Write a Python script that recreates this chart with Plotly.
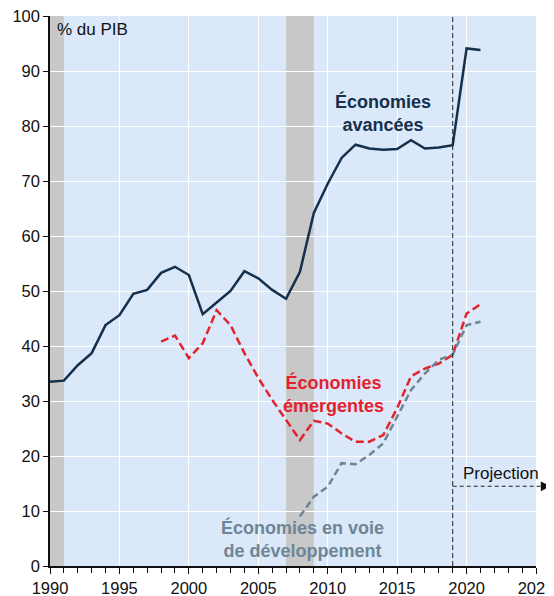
"""
Dette publique en % du PIB : économies avancées, émergentes et en voie de développement.
"""

import plotly.graph_objects as go

# Données
years_adv = list(range(1990, 2022))
debt_adv = [
    33.5, 33.7, 36.5, 38.7, 43.8, 45.6, 49.5, 50.2, 53.3, 54.4,
    52.9, 45.8, 47.9, 50.0, 53.6, 52.3, 50.2, 48.6, 53.5, 64.2,
    69.5, 74.2, 76.6, 75.9, 75.7, 75.8, 77.4, 75.9, 76.1, 76.5,
    94.1, 93.8,
]

years_em = list(range(1998, 2022))
debt_em = [
    40.8, 41.9, 37.8, 40.5, 46.5, 43.8, 38.7, 34.2, 30.2, 26.5,
    22.9, 26.4, 25.9, 24.1, 22.6, 22.6, 23.8, 28.7, 34.5, 35.9,
    36.8, 38.4, 45.9, 47.6,
]

years_dev = list(range(2008, 2022))
debt_dev = [
    9.0, 12.6, 14.4, 18.7, 18.5, 20.2, 22.3, 27.2, 32.0, 35.0,
    37.5, 38.4, 43.8, 44.4,
]

recessions = [(1990, 1991), (2007, 2009)]
projection_start = 2019

NAVY = "#14304d"
RED = "#e3222f"
GREY_BLUE = "#6f8596"
FONT = "Liberation Sans, Arial, sans-serif"

fig = go.Figure()

# Séries
fig.add_trace(
    go.Scatter(
        x=years_adv,
        y=debt_adv,
        mode="lines",
        line=dict(color=NAVY, width=2.5),
        name="Économies avancées",
    )
)
fig.add_trace(
    go.Scatter(
        x=years_em,
        y=debt_em,
        mode="lines",
        line=dict(color=RED, width=2.5, dash="8px,4px"),
        name="Économies émergentes",
    )
)
fig.add_trace(
    go.Scatter(
        x=years_dev,
        y=debt_dev,
        mode="lines",
        line=dict(color=GREY_BLUE, width=2.5, dash="7px,4px"),
        name="Économies en voie de développement",
    )
)

# Récessions (bandes grises)
for x0, x1 in recessions:
    fig.add_shape(
        type="rect",
        xref="x",
        yref="paper",
        x0=x0,
        x1=x1,
        y0=0,
        y1=1,
        fillcolor="#c8c8c8",
        line_width=0,
        layer="between",
    )

# Début de la projection
fig.add_shape(
    type="line",
    xref="x",
    yref="paper",
    x0=projection_start,
    x1=projection_start,
    y0=0,
    y1=1,
    line=dict(color="#222222", width=1, dash="5px,3px"),
)
fig.add_shape(
    type="line",
    xref="paper",
    yref="y",
    x0=(projection_start - 1990) / 35,
    x1=1.016,
    y0=14.5,
    y1=14.5,
    line=dict(color="#222222", width=1.2, dash="4px,3px"),
)
fig.add_annotation(
    xref="paper",
    yref="y",
    x=1.03,
    y=14.5,
    ax=-9,
    ay=0,
    text=" ",
    showarrow=True,
    arrowhead=2,
    arrowsize=1.3,
    arrowwidth=1.5,
    arrowcolor="#111111",
    standoff=0,
)

# Textes
labels = [
    ("Économies<br>avancées", 2014.0, 82.4, NAVY, True),
    ("Économies<br>émergentes", 2010.4, 31.3, RED, True),
    ("Économies en voie<br>de développement", 2008.2, 4.9, GREY_BLUE, True),
    ("Projection", 2022.5, 16.9, "#111111", False),
]
for text, x, y, color, bold in labels:
    fig.add_annotation(
        x=x,
        y=y,
        text=f"<b>{text}</b>" if bold else text,
        showarrow=False,
        font=dict(family=FONT, size=18 if bold else 17, color=color),
        xanchor="center",
        yanchor="middle",
    )

fig.add_annotation(
    xref="paper",
    yref="y",
    x=0.01,
    y=97.5,
    text="% du PIB",
    showarrow=False,
    xanchor="left",
    yanchor="middle",
    font=dict(family=FONT, size=17, color="#111111"),
)

# La page ajoute 8 px de marge autour du graphique : on compense ici
fig.update_layout(
    width=546,
    height=588,
    showlegend=False,
    margin=dict(l=42, r=18, t=8, b=30, autoexpand=False),
    plot_bgcolor="#dbe8f9",
    paper_bgcolor="white",
    font=dict(family=FONT, size=17, color="#111111"),
)

fig.update_xaxes(
    range=[1990, 2025],
    dtick=5,
    tick0=1990,
    automargin=False,
    ticklabeloverflow="allow",
    showgrid=True,
    gridcolor="white",
    gridwidth=1,
    zeroline=False,
    showline=True,
    linecolor="#111111",
    linewidth=1.5,
    ticks="outside",
    ticklen=6,
    tickcolor="#111111",
    tickfont=dict(family=FONT, size=16.5),
    minor=dict(dtick=1, ticks="outside", ticklen=5, tickcolor="#111111", showgrid=False),
)
fig.update_yaxes(
    range=[0, 100],
    dtick=10,
    automargin=False,
    ticklabeloverflow="allow",
    showgrid=True,
    gridcolor="white",
    gridwidth=1,
    zeroline=False,
    showline=True,
    linecolor="#111111",
    linewidth=1.5,
    ticks="outside",
    ticklen=5,
    tickcolor="#111111",
    tickfont=dict(family=FONT, size=16.5),
)

fig.write_html("out.html")
